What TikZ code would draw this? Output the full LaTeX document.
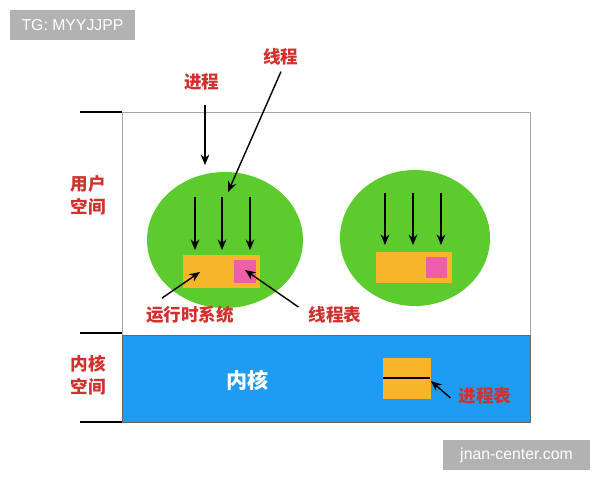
\documentclass[tikz,border=0pt]{standalone}
\usepackage{fontspec}
\setmainfont{Liberation Sans}
\newfontfamily\cjk{Noto Sans CJK SC}
\usetikzlibrary{positioning,arrows.meta}
\definecolor{labred}{HTML}{D0312D}
\definecolor{bubble}{HTML}{5BCB2E}
\definecolor{kernblue}{HTML}{1E9BF2}
\definecolor{boxorange}{HTML}{F7B52C}
\definecolor{boxpink}{HTML}{EE5FA7}
\begin{document}
\begin{tikzpicture}
    [
        x=0.02cm, y=-0.02cm,
        label/.style={text=labred, font=\cjk\bfseries\fontsize{10}{13}\selectfont, align=center},
        arrow/.style={-{Stealth[length=6pt,width=5pt]}, thick},
        tag/.style={fill=gray!60, text=white, font=\fontsize{9}{11}\selectfont, inner sep=0pt, minimum height=0.6cm}
    ]
    \useasboundingbox (0,0) rectangle (600,480);
    % Spaces
    \draw[gray!70] (122,112) rectangle (530,335);
    \draw[fill=kernblue, draw=black!60] (122,335) rectangle (530,422);
    \foreach \y in {112,333,422} \draw[thick] (80,\y) -- (122,\y);
    \node[label] (userspace) at (88,195) {用户\\空间};
    \node[label] (kernspace) at (88,375) {内核\\空间};
    \node[text=white, font=\cjk\bfseries\fontsize{12}{14}\selectfont] (kernel) at (248,380) {内核};

    % Processes
    \fill[bubble] (225,240) ellipse (78 and 68);
    \fill[bubble] (415,238) ellipse (75 and 68);
    \foreach \x in {195,222,250} \draw[arrow] (\x,197) -- (\x,250);
    \foreach \x in {385,413,441} \draw[arrow] (\x,193) -- (\x,245);
    \node[fill=boxorange, minimum width=1.54cm, minimum height=0.66cm] (runtime) at (221.5,271.5) {};
    \node[fill=boxpink, minimum size=0.46cm] (threadtab) at (245,271.5) {};
    \node[fill=boxorange, minimum width=1.52cm, minimum height=0.62cm] (runtimeb) at (414,267.5) {};
    \node[fill=boxpink, minimum size=0.44cm] (threadtabb) at (436.5,267.5) {};
    \node[fill=boxorange, draw=boxorange, minimum width=0.94cm, minimum height=0.8cm] (proctab) at (406.5,378) {};
    \draw[thick] (proctab.west) -- (proctab.east);

    % Labels
    \node[label] (proc) at (202,82) {进程};
    \node[label] (thread) at (281,57) {线程};
    \node[label] (rts) at (190,315) {运行时系统};
    \node[label] (ttab) at (335,315) {线程表};
    \node[label] (ptab) at (485,396) {进程表};
    \coordinate (proctip) at (205,165);
    \coordinate (threadtip) at (228,192);
    \coordinate (rtstip) at (200,272);
    \coordinate (ttabtip) at (245,270);
    \coordinate (ptabtip) at (431,381);
    \draw[arrow] (proc.south) ++(3,8) -- (proctip);
    \draw[arrow] (thread.south) -- (threadtip);
    \draw[arrow] (rts.north west) ++(22,-2) -- (rtstip);
    \draw[arrow] (ttab.west) ++(-4,-8) -- (ttabtip);
    \draw[arrow] (ptab.west) ++(-2,2) -- (ptabtip);

    % Tags
    \node[tag, minimum width=2.5cm] (tg) at (72.5,25) {TG: MYYJJPP};
    \node[tag, minimum width=2.94cm] (site) at (516.5,455) {jnan-center.com};
\end{tikzpicture}
\end{document}
